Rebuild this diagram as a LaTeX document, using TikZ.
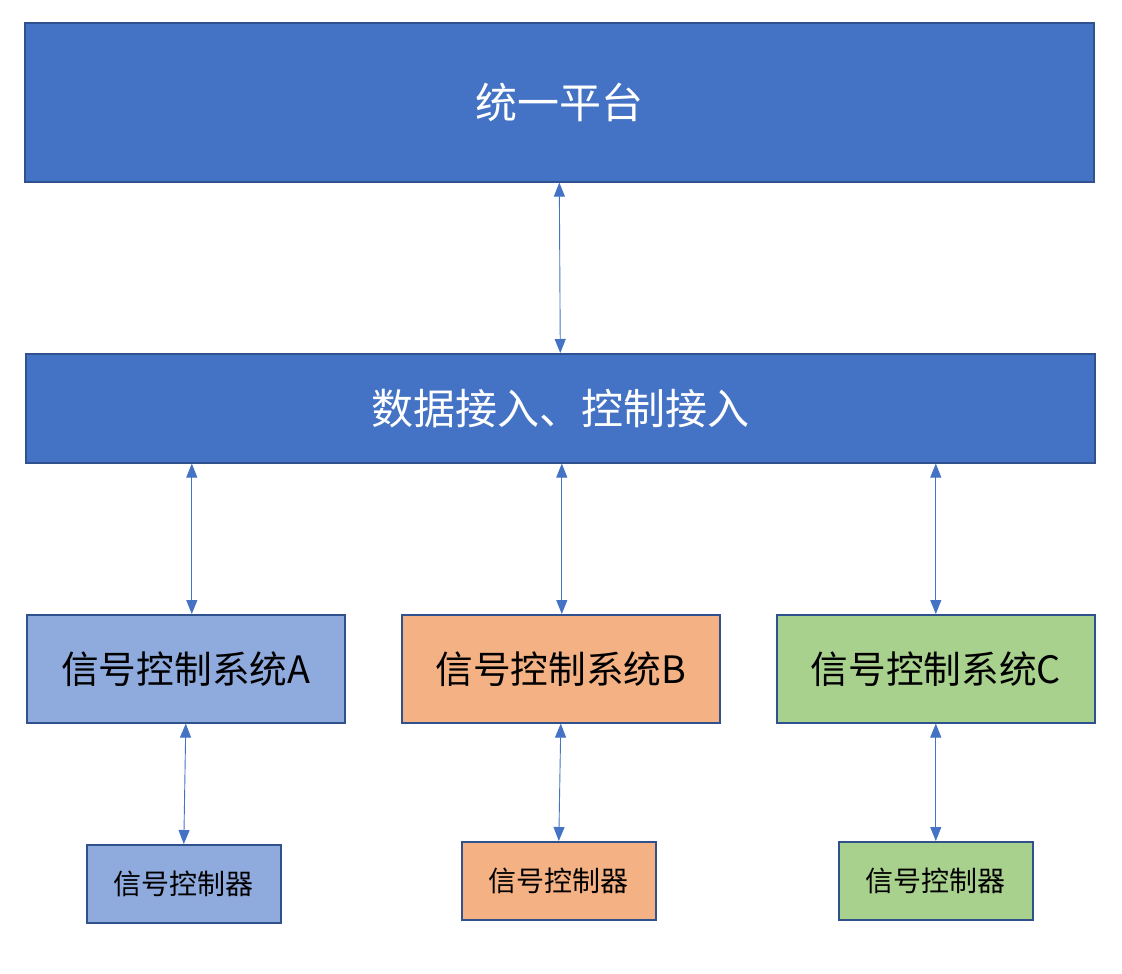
\documentclass[tikz,border=0pt]{standalone}
\usepackage{fontspec}
\setmainfont{Noto Sans CJK SC}
\usetikzlibrary{arrows.meta}
\definecolor{bluefill}{HTML}{4472C4}
\definecolor{edgeblue}{HTML}{2F528F}
\definecolor{afill}{HTML}{8FAADC}
\definecolor{bfill}{HTML}{F4B183}
\definecolor{cfill}{HTML}{A9D18E}
\tikzset{
  box/.style={draw=edgeblue, line width=1.6pt, inner sep=0pt, anchor=north west},
  bigbox/.style={box, fill=bluefill, text=white, font=\fontsize{42}{44}\selectfont},
  sysbox/.style={box, text=black, minimum width=318pt, minimum height=108pt, font=\fontsize{37.7}{40}\selectfont},
  ctlbox/.style={box, text=black, minimum width=194pt, minimum height=78pt, font=\fontsize{28}{30}\selectfont},
  arr/.style={draw=bluefill, line width=0.9pt, {Triangle[width=11pt,length=14pt]}-{Triangle[width=11pt,length=14pt]}}
}
\begin{document}
\begin{tikzpicture}[x=1pt,y=-1pt]
\useasboundingbox (0,0) rectangle (1122,974);
\node[bigbox, minimum width=1069pt, minimum height=159pt] (top) at (24,22) {统一平台};
\node[bigbox, minimum width=1069pt, minimum height=109pt] (mid) at (25,353) {数据接入、控制接入};
\node[sysbox, fill=afill] (a) at (26,614) {信号控制系统A};
\node[sysbox, fill=bfill] (b) at (401,614) {信号控制系统B};
\node[sysbox, fill=cfill] (c) at (776,614) {信号控制系统C};
\node[ctlbox, fill=afill] (sa) at (86,844) {信号控制器};
\node[ctlbox, fill=bfill] (sb) at (461,841) {信号控制器};
\node[ctlbox, fill=cfill] (sc) at (838,841) {信号控制器};
\draw[arr] (top.south) -- (mid.north);
\draw[arr] ([xshift=6pt]a.north |- mid.south) -- ([xshift=6pt]a.north);
\draw[arr] ([xshift=1pt]b.north |- mid.south) -- ([xshift=1pt]b.north);
\draw[arr] (c.north |- mid.south) -- (c.north);
\draw[arr] (a.south) -- (sa.north);
\draw[arr] (b.south) -- (sb.north);
\draw[arr] (c.south) -- (sc.north);
\end{tikzpicture}
\end{document}
